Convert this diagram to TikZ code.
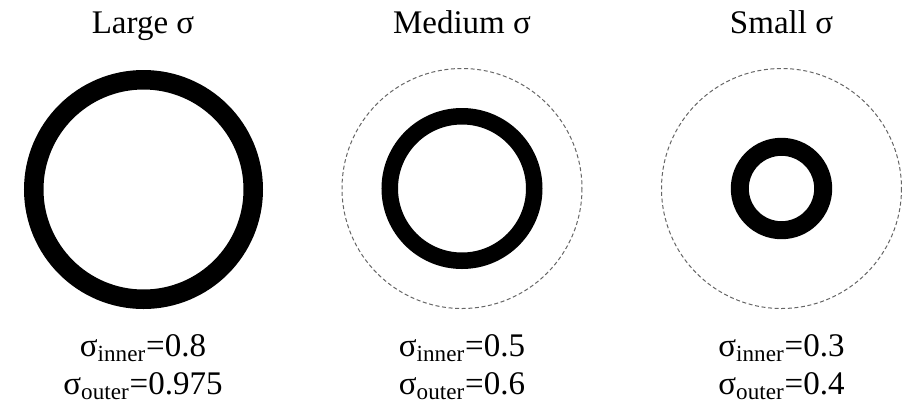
\documentclass[tikz,border=0pt]{standalone}
\usepackage{fontspec}
\setmainfont{Liberation Serif}
\usetikzlibrary{positioning}
\begin{document}
\begin{tikzpicture}[
      x=0.5pt, y=-0.5pt,
      font=\fontsize{16.5}{19}\selectfont,
      title/.style={anchor=base, inner sep=0pt},
      val/.style={anchor=base, inner sep=0pt},
      ring/.style={draw=black},
      unitcirc/.style={draw=black!60, line width=0.5pt, dash pattern=on 2pt off 1.3pt}
    ]
    \useasboundingbox (0,0) rectangle (902,403);

    % centres of the three panels
    \coordinate (large) at (143.5,189.5);
    \coordinate (medium) at (462,188.5);
    \coordinate (small) at (781.5,188.5);

    % rings
    \draw[ring, line width=9.75pt] (large) circle[radius=109.75];
    \draw[unitcirc] (medium) circle[radius=120];
    \draw[ring, line width=8.25pt] (medium) circle[radius=72.25];
    \draw[unitcirc] (small) circle[radius=120];
    \draw[ring, line width=9pt] (small) circle[radius=41.7];

    % titles
    \node[title] (tl) at (143,33) {Large σ};
    \node[title] (tm) at (462,33) {Medium σ};
    \node[title] (ts) at (781.5,33) {Small σ};

    % values
    \node[val] (il) at (143,356) {σ\textsubscript{inner}=0.8};
    \node[val] (ol) at (143,394) {σ\textsubscript{outer}=0.975};
    \node[val] (im) at (462,356) {σ\textsubscript{inner}=0.5};
    \node[val] (om) at (462,394) {σ\textsubscript{outer}=0.6};
    \node[val] (is) at (781.5,356) {σ\textsubscript{inner}=0.3};
    \node[val] (os) at (781.5,394) {σ\textsubscript{outer}=0.4};
  \end{tikzpicture}
\end{document}
